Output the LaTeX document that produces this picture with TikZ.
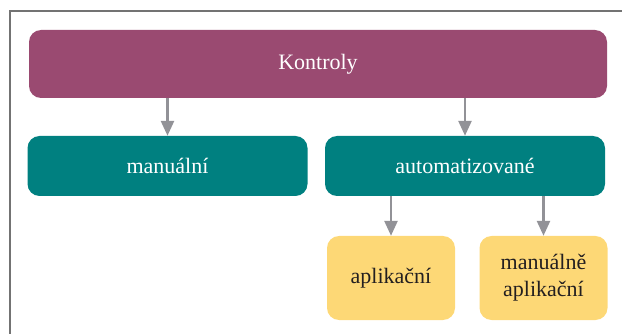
\documentclass[tikz,border=0pt]{standalone}
\usepackage{fontspec}
\setmainfont{Liberation Serif}
\usetikzlibrary{arrows.meta,positioning}
\definecolor{kpurple}{RGB}{154,74,113}
\definecolor{kteal}{RGB}{0,128,128}
\definecolor{kyellow}{RGB}{253,216,118}
\definecolor{kgray}{RGB}{146,146,151}
\definecolor{ktext}{RGB}{35,31,32}
\tikzset{
  topbox/.style={rounded corners=12pt, fill=kpurple, text=white, minimum width=578pt, minimum height=68pt, align=center, font=\fontsize{22}{25}\selectfont},
  midbox/.style={rounded corners=12pt, fill=kteal, text=white, minimum width=280pt, minimum height=60pt, align=center, font=\fontsize{22}{25}\selectfont},
  leafbox/.style={rounded corners=12pt, fill=kyellow, text=ktext, minimum width=128pt, minimum height=84pt, align=center, font=\fontsize{22}{27}\selectfont},
  arrow/.style={-{Triangle[length=15pt,width=13pt]}, draw=kgray, fill=kgray, line width=2.6pt},
  frame/.style={draw=gray!110, line width=1.3pt}
}
\begin{document}
\begin{tikzpicture}[x=1pt,y=1pt]
  \useasboundingbox (0,0) rectangle (622,-334);
  \draw[frame] (10,-334) -- (10,-11) -- (622,-11);
  \node[topbox] (kontroly) at (318,-64) {Kontroly};
  \node[midbox] (manual) at (167.5,-166) {manuální};
  \node[midbox] (auto) at (465,-166) {automatizované};
  \node[leafbox] (apl) at (391,-278) {aplikační};
  \node[leafbox] (manapl) at (543.5,-278) {manuálně\\aplikační};
  \draw[arrow] (manual.north |- kontroly.south) -- (manual.north);
  \draw[arrow] (auto.north |- kontroly.south) -- (auto.north);
  \draw[arrow] (apl.north |- auto.south) -- (apl.north);
  \draw[arrow] (manapl.north |- auto.south) -- (manapl.north);
\end{tikzpicture}
\end{document}
